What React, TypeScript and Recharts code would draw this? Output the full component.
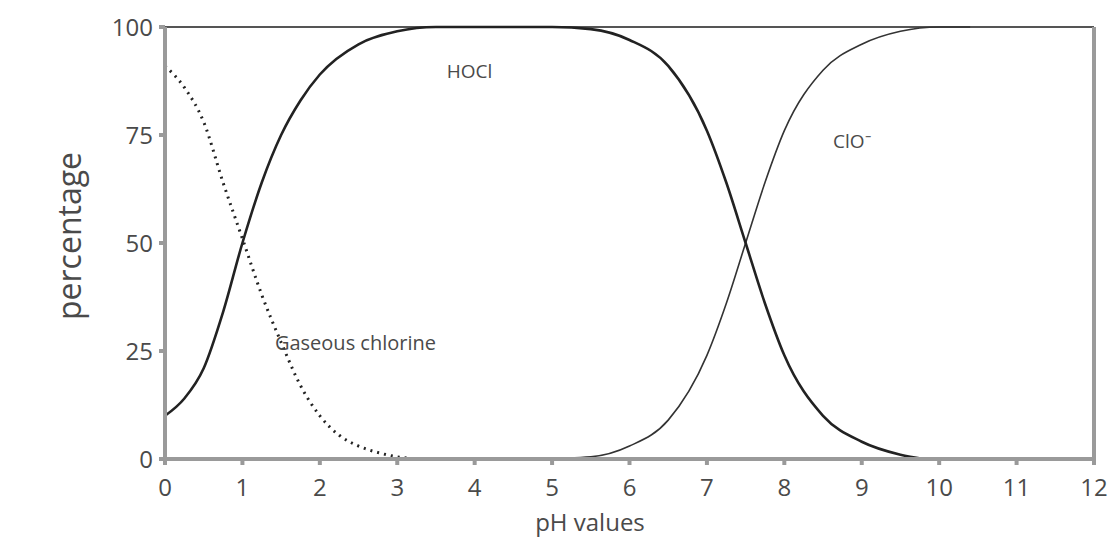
import React from "react";
import {
  LineChart,
  Line,
  XAxis,
  YAxis,
  ReferenceLine,
  ReferenceDot,
} from "recharts";

// Chlorine species vs pH.
const PH_TICKS = [0, 1, 2, 3, 4, 5, 6, 7, 8, 9, 10, 11, 12];
const PCT_TICKS = [0, 25, 50, 75, 100];

const HOCL_PH = [0, 0.25, 0.5, 0.75, 1, 1.25, 1.5, 1.75, 2, 2.5, 3, 3.5, 4, 5, 5.5, 6, 6.5, 7, 7.25, 7.5, 7.75, 8, 8.5, 9, 9.5, 9.8];
const HOCL_PCT = [10, 14, 21, 34, 50, 64, 75, 83, 89, 96, 99, 100, 100, 100, 99.5, 97, 91, 76, 64, 50, 36, 24, 10, 4, 1, 0];

const CLO_PH = [4.8, 5.5, 6, 6.5, 7, 7.25, 7.5, 7.75, 8, 8.5, 9, 9.5, 10, 10.4];
const CLO_PCT = [0, 0.5, 3, 9, 24, 36, 50, 64, 76, 90, 96, 99, 100, 100];

const CL2_PH = [0, 0.25, 0.5, 0.75, 1, 1.25, 1.5, 1.75, 2, 2.25, 2.5, 2.75, 3, 3.3];
const CL2_PCT = [91, 86, 78, 64, 51, 38, 27, 17, 10, 5.5, 3, 1.5, 0.5, 0];

const INK = "#222";
const AXIS = "#9a9a9a";
const TEXT = "#4a4a4a";
const FONT = "'Open Sans', sans-serif";

const zip = (xs: number[], ys: number[]) => xs.map((x, i) => ({ ph: x, v: ys[i] }));
const hocl = zip(HOCL_PH, HOCL_PCT);
const clo = zip(CLO_PH, CLO_PCT);
const cl2 = zip(CL2_PH, CL2_PCT);

const tick = { fill: TEXT, fontSize: 24, fontFamily: FONT } as const;

function CurveLabel(props: any) {
  const { viewBox, value, size } = props;
  return (
    <text x={viewBox.x} y={viewBox.y} dominantBaseline="middle" fill={TEXT} fontSize={size} fontFamily={FONT}>
      {value}
    </text>
  );
}

export default function App() {
  return (
    <div style={{ position: "absolute", left: 0, top: 0, width: 1112, height: 542, background: "#fff" }}>
      <LineChart width={1112} height={542} margin={{ top: 27, right: 18, bottom: 43, left: 45 }}>
        <XAxis
          dataKey="ph"
          type="number"
          domain={[0, 12]}
          ticks={PH_TICKS}
          allowDataOverflow
          tick={tick}
          stroke={AXIS}
          strokeWidth={4}
          height={40}
          tickSize={6}
          tickMargin={14}
        />
        <YAxis
          type="number"
          domain={[0, 100]}
          ticks={PCT_TICKS}
          tick={tick}
          stroke={AXIS}
          strokeWidth={4}
          width={120}
          tickSize={6}
          tickMargin={6}
        />
        <ReferenceLine y={100} stroke="#555" strokeWidth={2} />
        <ReferenceLine x={12} stroke={AXIS} strokeWidth={4} />
        <Line data={cl2} dataKey="v" type="monotone" stroke={INK} strokeWidth={3} strokeDasharray="2 5" dot={false} isAnimationActive={false} />
        <Line data={clo} dataKey="v" type="monotone" stroke="#333" strokeWidth={1.6} dot={false} isAnimationActive={false} />
        <Line data={hocl} dataKey="v" type="monotone" stroke={INK} strokeWidth={2.6} dot={false} isAnimationActive={false} />
        <ReferenceDot x={3.64} y={89.4} r={0} label={<CurveLabel value="HOCl" size={19} />} />
        <ReferenceDot x={8.63} y={73.2} r={0} label={<CurveLabel value="ClO⁻" size={19} />} />
        <ReferenceDot x={1.42} y={26.4} r={0} label={<CurveLabel value="Gaseous chlorine" size={20} />} />
      </LineChart>
      <div
        style={{
          position: "absolute",
          left: 68,
          top: 236,
          transform: "translate(-50%, -50%) rotate(-90deg)",
          fontFamily: FONT,
          fontSize: 32,
          color: TEXT,
          whiteSpace: "nowrap",
        }}
      >
        percentage
      </div>
      <div
        style={{
          position: "absolute",
          left: 590,
          top: 521,
          transform: "translate(-50%, -50%)",
          fontFamily: FONT,
          fontSize: 24,
          color: TEXT,
          whiteSpace: "nowrap",
        }}
      >
        pH values
      </div>
    </div>
  );
}
